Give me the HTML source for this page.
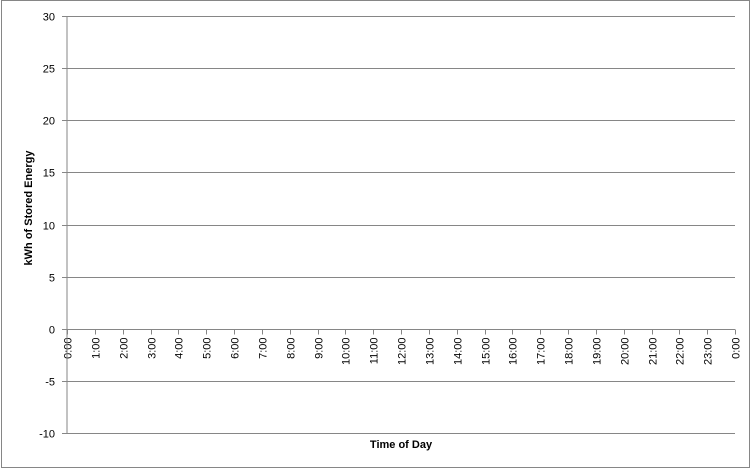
<!DOCTYPE html>
<html><head><meta charset="utf-8"><style>
html,body{margin:0;padding:0;background:#fff}
svg{display:block;font-family:"Liberation Sans",sans-serif}
</style></head><body>
<svg id="chart" width="752" height="470">
<rect x="1.5" y="0.5" width="748" height="467" fill="#fff" stroke="#868686"/>
<g id="grid"></g>
<g id="yticks"></g>
<g id="xticks"></g>
<line x1="67" y1="16" x2="67" y2="433" stroke="#868686"/>
<text x="0" y="0" transform="translate(32,208) rotate(-90)" text-anchor="middle" font-size="11" font-weight="bold">kWh of Stored Energy</text>
<text x="401" y="448" text-anchor="middle" font-size="11" font-weight="bold">Time of Day</text>
</svg>
<script>
const yTicks = [30, 25, 20, 15, 10, 5, 0, -5, -10];
const xLabels = ["0:00","1:00","2:00","3:00","4:00","5:00","6:00","7:00","8:00","9:00","10:00","11:00","12:00","13:00","14:00","15:00","16:00","17:00","18:00","19:00","20:00","21:00","22:00","23:00","0:00"];
const seriesValues = [];
const NS = "http://www.w3.org/2000/svg";
const x0 = 67, x1 = 735, yTop = 16, yBot = 433;
function yScale(v){ return yTop + (30 - v) / 40 * (yBot - yTop); }
function xScale(i){ return x0 + i * (x1 - x0) / (xLabels.length - 1); }
const grid = document.getElementById('grid'), yt = document.getElementById('yticks'), xt = document.getElementById('xticks');
yTicks.forEach(v => {
  const y = Math.round(yScale(v)) + 0.5;
  const l = document.createElementNS(NS,'line');
  l.setAttribute('x1', 62); l.setAttribute('x2', x1); l.setAttribute('y1', y); l.setAttribute('y2', y);
  l.setAttribute('stroke', '#868686');
  
  
  grid.appendChild(l);
  const t = document.createElementNS(NS,'text');
  t.setAttribute('x', 55); t.setAttribute('y', y + 4); t.setAttribute('text-anchor','end'); t.setAttribute('font-size','11');
  t.textContent = v;
  
  
  yt.appendChild(t);
});
const zy = Math.round(yScale(0)) + 0.5;
xLabels.forEach((lab, i) => {
  const x = Math.round(xScale(i)) + 0.5;
  const l = document.createElementNS(NS,'line');
  l.setAttribute('x1', x); l.setAttribute('x2', x); l.setAttribute('y1', zy); l.setAttribute('y2', zy + 5);
  l.setAttribute('stroke', '#868686');
  
  
  xt.appendChild(l);
  const t = document.createElementNS(NS,'text');
  t.setAttribute('transform', 'translate(' + (x + 4) + ',' + (zy + 8) + ') rotate(-90)');
  t.setAttribute('text-anchor','end'); t.setAttribute('font-size','11');
  t.textContent = lab;
  
  
  xt.appendChild(t);
});
</script>
</body></html>
